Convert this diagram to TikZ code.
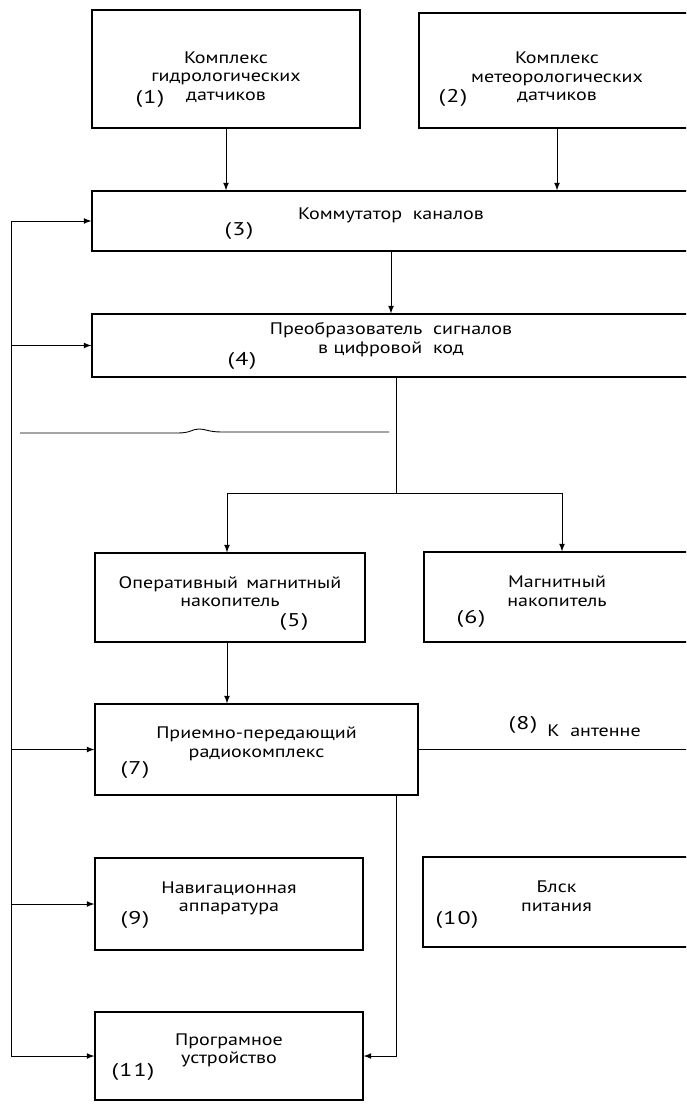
\documentclass[tikz,border=0pt]{standalone}
\usepackage{fontspec}
\setmainfont{PT Sans}[FakeStretch=1.2]
\newfontfamily\numfont{PT Sans}[FakeStretch=1.3,LetterSpace=6]
\usetikzlibrary{fit}

\begin{document}
\begin{tikzpicture}[
        x = 0.02cm,
        y = -0.02cm,
        >= latex,
        blk/.style = {draw, line width=0.7pt, inner sep=0pt, align=center,
            font=\fontsize{9.5}{10.5}\selectfont},
        txt/.style = {align=center, inner sep=0pt, font=\fontsize{9.5}{10.5}\selectfont},
        num/.style = {font=\numfont\fontsize{10.5}{12}\selectfont, inner sep=0pt},
        wire/.style = {line width=0.5pt}
    ]
        \clip (0,0) rectangle (686,1104);
        \node [blk, fit={(92,10) (360,128)}] (b1) {};
        \node [txt] (t1) at ([yshift=-4.5pt]b1.center) {Комплекс\\гидрологических\\датчиков};
        \node [blk, fit={(419,13) (695,128)}] (b2) {};
        \node [txt] (t2) at ([yshift=-4pt]b2.center) {Комплекс\\метеорологических\\датчиков};
        \node [blk, fit={(92,191) (690,251)}] (b3) {Коммутатор\ \ каналов};
        \node [blk, fit={(92,314) (690,377)}] (b4) {Преобразователь\ \ сигналов\\в цифровой\ \ код};
        \node [blk, fit={(95,553) (365,642)}] (b5) {Оперативный\enspace магнитный\\накопитель};
        \node [blk, fit={(424,552) (690,642)}] (b6) {Магнитный\\накопитель};
        \node [blk, fit={(95,704) (418,795)}] (b7) {Приемно-передающий\\радиокомплекс};
        \node [blk, fit={(95,858) (363,950)}] (b9) {Навигационная\\аппаратура};
        \node [blk, fit={(423,857) (690,947)}] (b10) {Блск\\питания};
        \node [blk, fit={(95,1012) (363,1100)}] (b11) {Програмное\\устройство};

        \node [num] (n1) at (150,99) {(1)};
        \node [num] (n2) at (453,98) {(2)};
        \node [num] (n3) at (239,231) {(3)};
        \node [num] (n4) at (242,361) {(4)};
        \node [num] (n5) at (294,622) {(5)};
        \node [num] (n6) at (471,619) {(6)};
        \node [num] (n7) at (135,770) {(7)};
        \node [num] (n9) at (135,920) {(9)};
        \node [num] (n10) at (457,920) {(10)};
        \node [num] (n11) at (133,1072) {(11)};

        \draw [->,wire] (b1.south) -- (b1.south |- b3.north);
        \draw [->,wire] (b2.south) -- (b2.south |- b3.north);
        \draw [->,wire] (b3.south) -- (b3.south |- b4.north);

        \coordinate (split) at (396,493);
        \coordinate (s5) at (227,493);
        \coordinate (s6) at (562,493);
        \draw [wire] (b4.south -| split) -- (split);
        \draw [wire] (s5) -- (s6);
        \draw [->,wire] (s5) -- (s5 |- b5.north);
        \draw [->,wire] (s6) -- (s6 |- b6.north);
        \draw [->,wire] (b5.south -| s5) -- (s5 |- b7.north);

        \coordinate (hl) at (20,433);
        \coordinate (hr) at (389,432);
        \draw [wire] (hl) -- (178,433) .. controls (191,433) and (192,429) .. (199,429)
            .. controls (206,429) and (208,432) .. (222,432) -- (hr);

        \coordinate (bus) at (11,222);
        \draw [wire] (bus |- b3.west) -- (bus |- b11.west);
        \draw [->,wire] (bus |- b3.west) -- (b3.west);
        \draw [->,wire] (bus |- b4.west) -- (b4.west);
        \draw [->,wire] (bus |- b7.west) -- (b7.west);
        \draw [->,wire] (bus |- b9.west) -- (b9.west);
        \draw [->,wire] (bus |- b11.west) -- (b11.west);

        \coordinate (ant) at (690,749);
        \draw [wire] (b7.east) -- (b7.east -| ant);
        \node [num] (n8) at (523,725) {(8)};
        \node [txt, anchor=east] (antlbl) at (641,731) {К\ \ антенне};

        \coordinate (down) at (396,797);
        \draw [->,wire] (b7.south -| down) -- (down |- b11.east) -- (b11.east);
\end{tikzpicture}
\end{document}
